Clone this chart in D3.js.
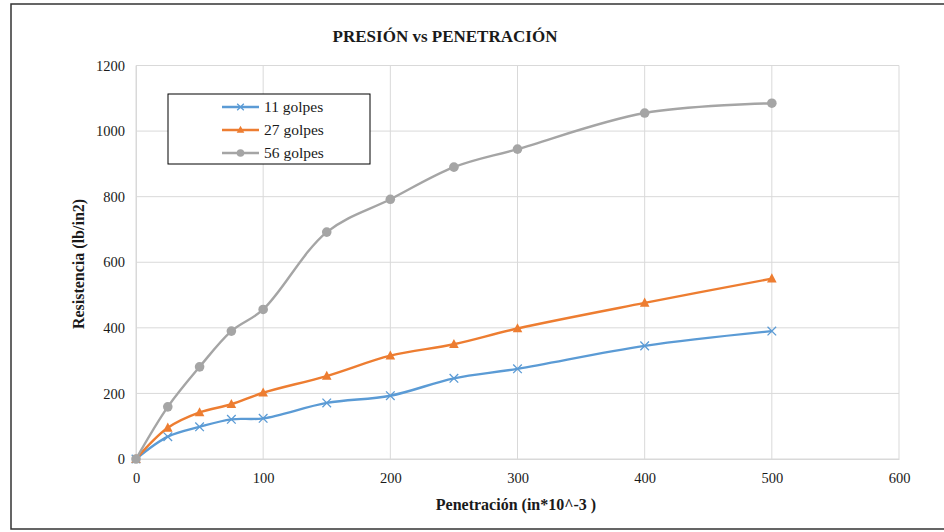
<!DOCTYPE html>
<html>
<head>
<meta charset="utf-8">
<script src="https://cdn.jsdelivr.net/npm/d3@7"></script>
<style>
  html, body { margin: 0; padding: 0; background: #fff; }
  svg { display: block; }
</style>
</head>
<body>
<svg id="chart" width="944" height="532"></svg>
<script>
// Penetration readings (in*10^-3) and resistance for each compaction level
const penetracion = [0, 25, 50, 75, 100, 150, 200, 250, 300, 400, 500];
const golpes11 = [0, 68, 98, 121, 124, 171, 193, 246, 275, 345, 390];
const golpes27 = [0, 95, 142, 167, 202, 253, 315, 350, 398, 476, 550];
const golpes56 = [0, 159, 281, 390, 456, 692, 792, 890, 945, 1055, 1085];
const seriesNames = ["11 golpes", "27 golpes", "56 golpes"];
const xTicks = [0, 100, 200, 300, 400, 500, 600];
const yTicks = [0, 200, 400, 600, 800, 1000, 1200];

const colors = ["#5b9bd5", "#ed7d31", "#a5a5a5"];
const markers = ["x", "triangle", "circle"];
const serif = "Liberation Serif";
const ink = "#1a1a1a";

const svg = d3.select("#chart");

// chart frame
svg.append("rect").attr("x", 11).attr("y", 4).attr("width", 945).attr("height", 525)
  .attr("fill", "#fff").attr("stroke", "#333").attr("stroke-width", 1.5);

const plot = { left: 136, right: 899, top: 65.5, bottom: 459 };
const x = d3.scaleLinear().domain([0, 600]).range([plot.left, plot.right]);
const y = d3.scaleLinear().domain([0, 1200]).range([plot.bottom, plot.top]);

// gridlines
svg.append("g").selectAll("line").data(yTicks).join("line")
  .attr("x1", plot.left).attr("x2", plot.right)
  .attr("y1", d => y(d)).attr("y2", d => y(d))
  .attr("stroke", "#d9d9d9").attr("stroke-width", 1);
svg.append("g").selectAll("line").data(xTicks).join("line")
  .attr("x1", d => x(d)).attr("x2", d => x(d))
  .attr("y1", plot.top).attr("y2", plot.bottom)
  .attr("stroke", "#d9d9d9").attr("stroke-width", 1);

// axes (labels only; the lines are the gridlines)
const xAxis = svg.append("g").attr("transform", `translate(0,${plot.bottom})`)
  .call(d3.axisBottom(x).tickValues(xTicks).tickFormat(d3.format("d")).tickSize(0).tickPadding(14));
xAxis.attr("font-family", serif).attr("font-size", 14.5);
xAxis.selectAll("text").attr("fill", ink);
xAxis.select(".domain").attr("stroke", "#d9d9d9");

const yAxis = svg.append("g").attr("transform", `translate(${plot.left},0)`)
  .call(d3.axisLeft(y).tickValues(yTicks).tickFormat(d3.format("d")).tickSize(0).tickPadding(11));
yAxis.attr("font-family", serif).attr("font-size", 14.5);
yAxis.selectAll("text").attr("fill", ink);
yAxis.select(".domain").attr("stroke", "#d9d9d9");

// titles
svg.append("text").attr("x", 445).attr("y", 42).attr("text-anchor", "middle").attr("fill", ink)
  .attr("font-family", serif).attr("font-weight", "bold").attr("font-size", 17).text("PRESIÓN vs PENETRACIÓN");
svg.append("text").attr("x", 516).attr("y", 510).attr("text-anchor", "middle").attr("fill", ink)
  .attr("font-family", serif).attr("font-weight", "bold").attr("font-size", 16).text("Penetración (in*10^-3 )");
svg.append("text").attr("transform", "translate(84,264) rotate(-90)").attr("text-anchor", "middle").attr("fill", ink)
  .attr("font-family", serif).attr("font-weight", "bold").attr("font-size", 16).text("Resistencia (lb/in2)");

const allSeries = [golpes11, golpes27, golpes56];
const line = d3.line().x(d => x(d[0])).y(d => y(d[1])).curve(d3.curveCatmullRom.alpha(0.5));

function drawMarker(g, type, color, cx, cy, s) {
  if (type === "x") {
    g.append("path").attr("d", `M${cx - s},${cy - s}L${cx + s},${cy + s}M${cx - s},${cy + s}L${cx + s},${cy - s}`)
      .attr("stroke", color).attr("stroke-width", 1.3).attr("fill", "none");
  } else if (type === "triangle") {
    g.append("path").attr("d", `M${cx},${cy - s - 1}L${cx + s + 0.5},${cy + s - 0.5}L${cx - s - 0.5},${cy + s - 0.5}Z`)
      .attr("fill", color);
  } else {
    g.append("circle").attr("cx", cx).attr("cy", cy).attr("r", s + 0.5).attr("fill", color);
  }
}

allSeries.forEach((vals, i) => {
  const pts = penetracion.map((p, k) => [p, vals[k]]);
  const g = svg.append("g");
  g.append("path").datum(pts).attr("d", line).attr("fill", "none")
    .attr("stroke", colors[i]).attr("stroke-width", 2.4).attr("stroke-linejoin", "round");
  pts.forEach(d => drawMarker(g, markers[i], colors[i], x(d[0]), y(d[1]), 4.3));
});

// legend
const lg = svg.append("g");
lg.append("rect").attr("x", 168).attr("y", 94).attr("width", 202).attr("height", 70)
  .attr("fill", "#fff").attr("stroke", "#000").attr("stroke-width", 1);
seriesNames.forEach((name, i) => {
  const ly = 107 + i * 23;
  lg.append("line").attr("x1", 222).attr("x2", 259).attr("y1", ly).attr("y2", ly)
    .attr("stroke", colors[i]).attr("stroke-width", 2.4);
  drawMarker(lg, markers[i], colors[i], 240.5, ly, 3.3);
  lg.append("text").attr("x", 264).attr("y", ly + 5).attr("font-family", serif).attr("fill", ink)
    .attr("font-size", 15.5).text(name);
});
</script>
</body>
</html>
